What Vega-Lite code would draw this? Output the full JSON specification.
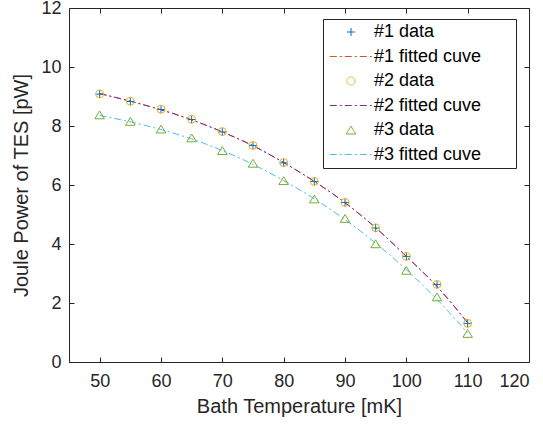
{
  "$schema": "https://vega.github.io/schema/vega-lite/v6.json",
  "width": 460,
  "height": 354,
  "autosize": {"type": "none"},
  "padding": {"left": 69, "top": 8, "right": 14, "bottom": 64},
  "background": "white",
  "config": {
    "view": {"stroke": null},
    "font": "Liberation Sans",
    "axis": {
      "grid": false,
      "domainColor": "#262626",
      "domainWidth": 1,
      "tickColor": "#262626",
      "tickWidth": 1,
      "tickSize": -5,
      "labelColor": "#262626",
      "titleColor": "#262626",
      "labelFont": "Liberation Sans",
      "titleFont": "Liberation Sans",
      "labelFontSize": 18,
      "titleFontSize": 20,
      "titleFontWeight": "normal"
    },
    "legend": {
      "labelFont": "Liberation Sans",
      "labelFontSize": 18,
      "labelColor": "#000000",
      "labelLimit": 300
    }
  },
  "datasets": {
    "pts": [
      {"T": 50, "P": 9.08, "series": "#1 data"},
      {"T": 55, "P": 8.83, "series": "#1 data"},
      {"T": 60, "P": 8.56, "series": "#1 data"},
      {"T": 65, "P": 8.22, "series": "#1 data"},
      {"T": 70, "P": 7.80, "series": "#1 data"},
      {"T": 75, "P": 7.34, "series": "#1 data"},
      {"T": 80, "P": 6.75, "series": "#1 data"},
      {"T": 85, "P": 6.12, "series": "#1 data"},
      {"T": 90, "P": 5.41, "series": "#1 data"},
      {"T": 95, "P": 4.54, "series": "#1 data"},
      {"T": 100, "P": 3.58, "series": "#1 data"},
      {"T": 105, "P": 2.63, "series": "#1 data"},
      {"T": 110, "P": 1.31, "series": "#1 data"},
      {"T": 50, "P": 9.09, "series": "#2 data"},
      {"T": 55, "P": 8.84, "series": "#2 data"},
      {"T": 60, "P": 8.57, "series": "#2 data"},
      {"T": 65, "P": 8.23, "series": "#2 data"},
      {"T": 70, "P": 7.81, "series": "#2 data"},
      {"T": 75, "P": 7.34, "series": "#2 data"},
      {"T": 80, "P": 6.76, "series": "#2 data"},
      {"T": 85, "P": 6.12, "series": "#2 data"},
      {"T": 90, "P": 5.41, "series": "#2 data"},
      {"T": 95, "P": 4.55, "series": "#2 data"},
      {"T": 100, "P": 3.58, "series": "#2 data"},
      {"T": 105, "P": 2.63, "series": "#2 data"},
      {"T": 110, "P": 1.31, "series": "#2 data"},
      {"T": 50, "P": 8.38, "series": "#3 data"},
      {"T": 55, "P": 8.16, "series": "#3 data"},
      {"T": 60, "P": 7.90, "series": "#3 data"},
      {"T": 65, "P": 7.60, "series": "#3 data"},
      {"T": 70, "P": 7.17, "series": "#3 data"},
      {"T": 75, "P": 6.74, "series": "#3 data"},
      {"T": 80, "P": 6.15, "series": "#3 data"},
      {"T": 85, "P": 5.53, "series": "#3 data"},
      {"T": 90, "P": 4.87, "series": "#3 data"},
      {"T": 95, "P": 4.01, "series": "#3 data"},
      {"T": 100, "P": 3.11, "series": "#3 data"},
      {"T": 105, "P": 2.21, "series": "#3 data"},
      {"T": 110, "P": 0.97, "series": "#3 data"}
    ],
    "fits": [
      {"T": 50, "P": 9.10, "series": "#1 fitted cuve"},
      {"T": 55, "P": 8.84, "series": "#1 fitted cuve"},
      {"T": 60, "P": 8.55, "series": "#1 fitted cuve"},
      {"T": 65, "P": 8.21, "series": "#1 fitted cuve"},
      {"T": 70, "P": 7.80, "series": "#1 fitted cuve"},
      {"T": 75, "P": 7.33, "series": "#1 fitted cuve"},
      {"T": 80, "P": 6.76, "series": "#1 fitted cuve"},
      {"T": 85, "P": 6.12, "series": "#1 fitted cuve"},
      {"T": 90, "P": 5.40, "series": "#1 fitted cuve"},
      {"T": 95, "P": 4.55, "series": "#1 fitted cuve"},
      {"T": 100, "P": 3.58, "series": "#1 fitted cuve"},
      {"T": 105, "P": 2.56, "series": "#1 fitted cuve"},
      {"T": 110, "P": 1.33, "series": "#1 fitted cuve"},
      {"T": 50, "P": 9.10, "series": "#2 fitted cuve"},
      {"T": 55, "P": 8.84, "series": "#2 fitted cuve"},
      {"T": 60, "P": 8.55, "series": "#2 fitted cuve"},
      {"T": 65, "P": 8.21, "series": "#2 fitted cuve"},
      {"T": 70, "P": 7.80, "series": "#2 fitted cuve"},
      {"T": 75, "P": 7.33, "series": "#2 fitted cuve"},
      {"T": 80, "P": 6.76, "series": "#2 fitted cuve"},
      {"T": 85, "P": 6.12, "series": "#2 fitted cuve"},
      {"T": 90, "P": 5.40, "series": "#2 fitted cuve"},
      {"T": 95, "P": 4.55, "series": "#2 fitted cuve"},
      {"T": 100, "P": 3.58, "series": "#2 fitted cuve"},
      {"T": 105, "P": 2.56, "series": "#2 fitted cuve"},
      {"T": 110, "P": 1.33, "series": "#2 fitted cuve"},
      {"T": 50, "P": 8.36, "series": "#3 fitted cuve"},
      {"T": 55, "P": 8.14, "series": "#3 fitted cuve"},
      {"T": 60, "P": 7.88, "series": "#3 fitted cuve"},
      {"T": 65, "P": 7.56, "series": "#3 fitted cuve"},
      {"T": 70, "P": 7.17, "series": "#3 fitted cuve"},
      {"T": 75, "P": 6.70, "series": "#3 fitted cuve"},
      {"T": 80, "P": 6.15, "series": "#3 fitted cuve"},
      {"T": 85, "P": 5.53, "series": "#3 fitted cuve"},
      {"T": 90, "P": 4.83, "series": "#3 fitted cuve"},
      {"T": 95, "P": 4.03, "series": "#3 fitted cuve"},
      {"T": 100, "P": 3.13, "series": "#3 fitted cuve"},
      {"T": 105, "P": 2.12, "series": "#3 fitted cuve"},
      {"T": 110, "P": 0.98, "series": "#3 fitted cuve"}
    ]
  },
  "layer": [
    {
      "data": {"name": "fits"},
      "mark": {"type": "line", "strokeWidth": 1, "interpolate": "monotone"},
      "encoding": {
        "x": {
          "field": "T", "type": "quantitative",
          "scale": {"domain": [45, 120], "nice": false, "zero": false},
          "axis": {"orient": "bottom", "title": "Bath Temperature [mK]", "values": [50, 60, 70, 80, 90, 100, 110, 120], "labelPadding": 15, "titlePadding": 6}
        },
        "y": {
          "field": "P", "type": "quantitative",
          "scale": {"domain": [0, 12], "nice": false},
          "axis": {"orient": "left", "title": "Joule Power of TES [pW]", "values": [0, 2, 4, 6, 8, 10, 12], "labelPadding": 13, "titlePadding": 9}
        },
        "color": {
          "field": "series", "type": "nominal",
          "scale": {
            "domain": ["#1 data", "#1 fitted cuve", "#2 data", "#2 fitted cuve", "#3 data", "#3 fitted cuve"],
            "range": ["#0072BD", "#D95319", "#EDB120", "#7E2F8E", "#77AC30", "#4DBEEE"]
          },
          "legend": {
            "title": null,
            "orient": "none",
            "legendX": 254,
            "legendY": 11,
            "padding": 4,
            "rowPadding": 6.5,
            "symbolOffset": 15,
            "labelOffset": 14,
            "symbolSize": 64,
            "symbolStrokeWidth": 1,
            "strokeColor": "#262626",
            "fillColor": "white",
            "labelLimit": 300,
            "labelExpr": "datum.label + '\u00a0\u00a0\u00a0\u00a0\u00a0\u00a0\u200b'"
          }
        },
        "strokeDash": {
          "field": "series", "type": "nominal",
          "scale": {
            "domain": ["#1 data", "#1 fitted cuve", "#2 data", "#2 fitted cuve", "#3 data", "#3 fitted cuve"],
            "range": [[1, 0], [7, 3, 2, 3], [1, 0], [7, 3, 2, 3], [1, 0], [7, 3, 2, 3]]
          },
          "legend": null
        }
      }
    },
    {
      "data": {"name": "pts"},
      "mark": {"type": "point", "filled": false, "strokeWidth": 1, "size": 64, "opacity": 1},
      "encoding": {
        "x": {
          "field": "T", "type": "quantitative",
          "axis": {"orient": "top", "labels": false, "title": null, "values": [50, 60, 70, 80, 90, 100, 110, 120]}
        },
        "y": {
          "field": "P", "type": "quantitative",
          "axis": {"orient": "right", "labels": false, "title": null, "values": [0, 2, 4, 6, 8, 10, 12]}
        },
        "color": {
          "field": "series", "type": "nominal",
          "legend": {
            "title": null,
            "orient": "none",
            "legendX": 254,
            "legendY": 11,
            "padding": 4,
            "rowPadding": 6.5,
            "symbolOffset": 15,
            "labelOffset": 14,
            "symbolSize": 64,
            "symbolStrokeWidth": 1,
            "strokeColor": "#262626",
            "fillColor": "white",
            "labelLimit": 300,
            "labelExpr": "datum.label + '\u00a0\u00a0\u00a0\u00a0\u00a0\u00a0\u200b'"
          }
        },
        "shape": {
          "field": "series", "type": "nominal",
          "scale": {
            "domain": ["#1 data", "#1 fitted cuve", "#2 data", "#2 fitted cuve", "#3 data", "#3 fitted cuve"],
            "range": ["M-1,0H1M0,-1V1", "M-5.3,0H5.3", "circle", "M-5.3,0H5.3", "M0,-0.95L1.2,1L-1.2,1Z", "M-5.3,0H5.3"]
          },
          "legend": null
        }
      }
    }
  ],
  "resolve": {"axis": {"x": "independent", "y": "independent"}}
}
